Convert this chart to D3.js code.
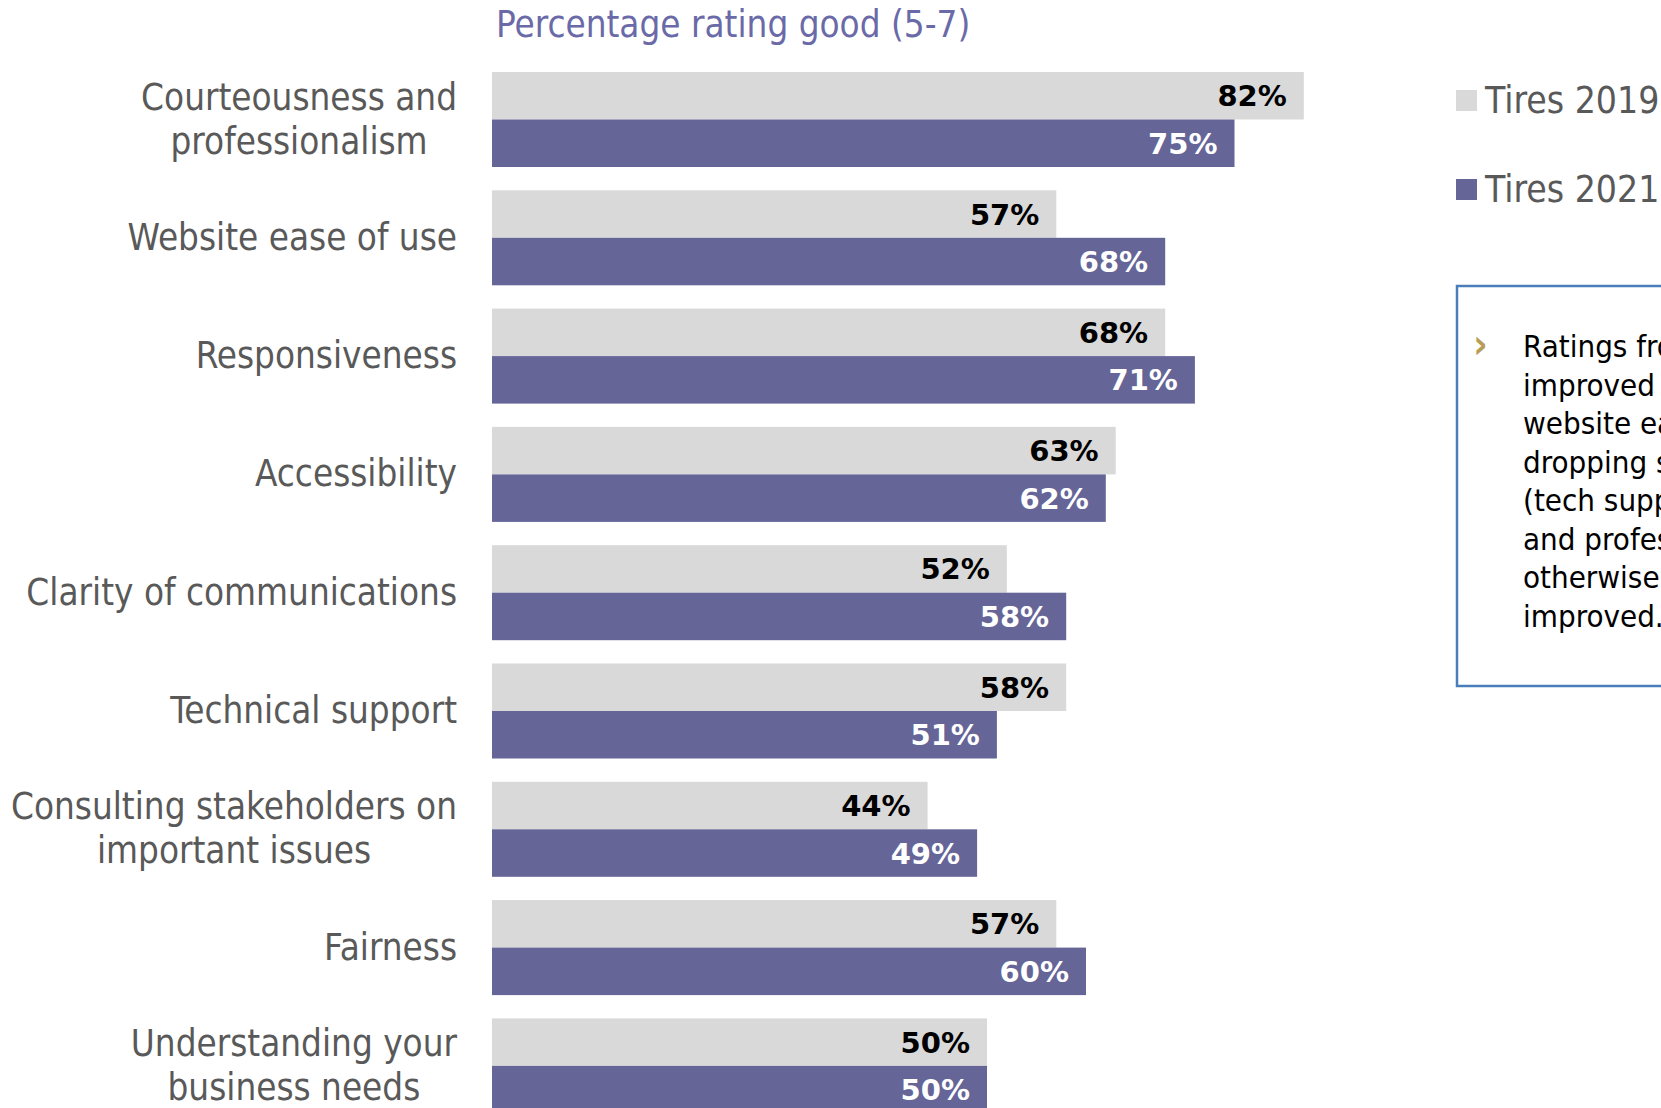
<!DOCTYPE html>
<html>
<head>
<meta charset="utf-8">
<script src="https://cdn.jsdelivr.net/npm/d3@7/dist/d3.min.js"></script>
<style>
  html, body { margin: 0; padding: 0; background: #fff; overflow: hidden; }
  svg { display: block; }
  text { font-family: "DejaVu Sans Condensed", "DejaVu Sans", sans-serif; font-stretch: condensed; }
</style>
</head>
<body>
<svg id="chart" width="1661" height="1108"></svg>
<script>
// Category labels (line breaks marked with \n)
const categories = [
  "Courteousness and\nprofessionalism",
  "Website ease of use",
  "Responsiveness",
  "Accessibility",
  "Clarity of communications",
  "Technical support",
  "Consulting stakeholders on\nimportant issues",
  "Fairness",
  "Understanding your\nbusiness needs"
];
const seriesNames = ["Tires 2019", "Tires 2021"];
const values2019 = [82, 57, 68, 63, 52, 58, 44, 57, 50];
const values2021 = [75, 68, 71, 62, 58, 51, 49, 60, 50];
const titleText = "Percentage rating good (5-7)";
const noteLines = [
  "Ratings from Tires",
  "improved overall, with",
  "website ease of use up,",
  "dropping slightly on two",
  "(tech support, courteousness",
  "and professionalism), but",
  "otherwise ratings held or",
  "improved."
];

const W = 1661, H = 1108;
const colors = { "Tires 2019": "#d9d9d9", "Tires 2021": "#656598" };
const labelColors = { "Tires 2019": "#000000", "Tires 2021": "#ffffff" };

const svg = d3.select("#chart");

const rows = categories.map((c, i) => ({
  category: c,
  series: [
    { name: seriesNames[0], value: values2019[i] },
    { name: seriesNames[1], value: values2021[i] }
  ]
}));

// Scales
const x = d3.scaleLinear().domain([0, 100]).range([492, 1482]);
const y = d3.scaleBand()
  .domain(categories)
  .range([72, 72 + 8 * 118.3 + 95])
  .paddingInner(23.3 / 118.3)
  .paddingOuter(0);
const ySub = d3.scaleBand().domain(seriesNames).range([0, y.bandwidth()]);

// Title
svg.append("text")
  .attr("x", 496)
  .attr("y", 37)
  .attr("font-size", 36.5)
  .attr("fill", "#6a6aa8")
  .text(titleText);

// Bars
const groups = svg.append("g").selectAll("g.row")
  .data(rows)
  .join("g")
  .attr("class", "row")
  .attr("transform", d => `translate(0,${y(d.category)})`);

groups.selectAll("rect")
  .data(d => d.series)
  .join("rect")
  .attr("x", x(0))
  .attr("y", d => ySub(d.name))
  .attr("width", d => x(d.value) - x(0))
  .attr("height", ySub.bandwidth())
  .attr("fill", d => colors[d.name]);

// Value labels inside bar ends
groups.selectAll("text.val")
  .data(d => d.series)
  .join("text")
  .attr("class", "val")
  .attr("x", d => x(d.value) - 17)
  .attr("y", d => ySub(d.name) + ySub.bandwidth() / 2 + 10.5)
  .attr("text-anchor", "end")
  .attr("font-size", 29)
  .attr("font-weight", "bold")
  .style("font-family", "'DejaVu Sans', sans-serif")
  .style("font-stretch", "normal")
  .attr("fill", d => labelColors[d.name])
  .text(d => d.value + "%");

// Category labels: right-aligned block, lines centred within the block
const labelRight = 457;
groups.each(function(d) {
  const g = d3.select(this);
  const lines = d.category.split("\n");
  const cy = y.bandwidth() / 2;
  const t = g.append("text")
    .attr("font-size", 36.5)
    .attr("fill", "#595959")
    .attr("text-anchor", "middle");
  const baselines = lines.length === 1 ? [cy + 12] : [cy - 10, cy + 34];
  const spans = lines.map((ln, i) => t.append("tspan").attr("y", baselines[i]).text(ln));
  const widths = spans.map(s => s.node().getComputedTextLength());
  const maxW = d3.max(widths);
  spans.forEach(s => s.attr("x", labelRight - maxW / 2));
});

// Legend
const legend = svg.append("g").selectAll("g")
  .data(seriesNames)
  .join("g")
  .attr("transform", (d, i) => `translate(1456,${90 + i * 89})`);
legend.append("rect")
  .attr("width", 21).attr("height", 21)
  .attr("fill", d => colors[d]);
legend.append("text")
  .attr("x", 29).attr("y", 23)
  .attr("font-size", 37)
  .attr("fill", "#595959")
  .text(d => d);

// Commentary box (runs off the right edge)
svg.append("rect")
  .attr("x", 1457).attr("y", 286)
  .attr("width", 400).attr("height", 400)
  .attr("fill", "none")
  .attr("stroke", "#4a7ebb")
  .attr("stroke-width", 2.5);
svg.append("text")
  .attr("x", 1473).attr("y", 358)
  .attr("font-size", 40)
  .attr("font-weight", "bold")
  .attr("fill", "#b89e55")
  .text("\u203A");
const note = svg.append("text")
  .attr("font-size", 31)
  .attr("fill", "#000");
noteLines.forEach((ln, i) => {
  note.append("tspan").attr("x", 1523).attr("y", 357 + i * 38.5).text(ln);
});
</script>
</body>
</html>
